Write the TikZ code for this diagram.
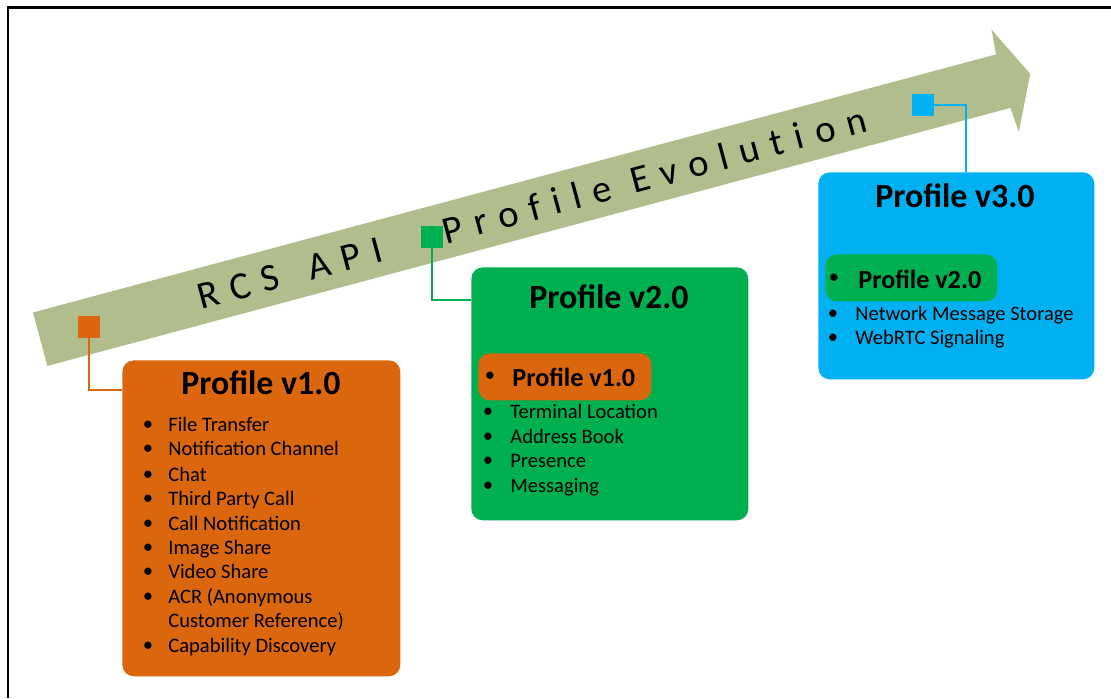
\documentclass[tikz,border=0pt]{standalone}
\usepackage{fontspec}
\setmainfont{Carlito}
\usetikzlibrary{positioning}
\definecolor{shaftGreen}{RGB}{178,189,142}
\definecolor{profOrange}{RGB}{218,102,14}
\definecolor{profGreen}{RGB}{0,176,80}
\definecolor{profBlue}{RGB}{0,176,240}
\tikzset{
  card/.style  = {rounded corners=6.5pt,anchor=north west,inner sep=0pt},
  tag/.style   = {minimum size=0.44cm,inner sep=0pt},
  link/.style  = {line width=1.1pt},
  title/.style = {font=\fontsize{19.3}{22}\selectfont\bfseries},
  sub/.style   = {anchor=west,inner sep=0pt,font=\fontsize{14.9}{17}\selectfont\bfseries},
  item/.style  = {anchor=west,inner sep=0pt,font=\fontsize{11.7}{14}\selectfont,
                  text height=1.6ex,text depth=.4ex},
  dot/.style   = {inner sep=0pt,font=\fontsize{11.7}{14}\selectfont},
  banner/.style = {rotate=15,inner sep=0pt,
                   font=\fontsize{22}{25}\selectfont\addfontfeatures{LetterSpace=31,Ligatures=CommonOff}}
}

\begin{document}
\begin{tikzpicture}[x=0.02cm,y=-0.02cm]
  \useasboundingbox (0,0) rectangle (1111,698);
  % frame
  \draw[line width=1.7pt] (1111,7) -- (8,7) -- (8,698);

  % the big arrow
  \begin{scope}[shift={(87.5,326.5)},rotate=15]
    \fill[shaftGreen] (-49,-27.7) -- (948,-27.7) -- (950,-53) -- (976,0)
      -- (950,53) -- (948,27.7) -- (-49,27.7) -- cycle;
    \node (evo) [banner] at (460,0) {RCS\hspace{0.27em} API\hspace{1.1em} Profile Evolution};
  \end{scope}

  % markers on the arrow
  \node (s1) [tag,fill=profOrange] at (89,327) {};
  \node (s2) [tag,fill=profGreen]  at (432,237) {};
  \node (s3) [tag,fill=profBlue]   at (923,105) {};

  % profile cards
  \node (p1) [card,fill=profOrange,minimum width=5.56cm,minimum height=6.32cm] at (122,360) {};
  \node (p2) [card,fill=profGreen,minimum width=5.54cm,minimum height=5.06cm] at (471,267) {};
  \node (p3) [card,fill=profBlue,minimum width=5.52cm,minimum height=4.14cm] at (818,172) {};

  \draw[link,profOrange] (s1.south) |- (p1.west |- 0,390);
  \draw[link,profGreen]  (s2.south) |- (p2.west |- 0,300);
  \draw[link,profBlue]   (s3.east) -| (p3.north -| 966,0);

  \node (h1) [title] at (261,383) {Profile v1.0};
  \node (h2) [title] at (609,297) {Profile v2.0};
  \node (h3) [title] at (955,196) {Profile v3.0};

  % v1.0
  \foreach \y/\t [count=\i] in {426/File Transfer,450/Notification Channel,476/Chat,
      500/Third Party Call,525/Call Notification,549/Image Share,573/Video Share,
      598/ACR (Anonymous,647/Capability Discovery} {
    \node (d1-\i) [dot] at (148,\y) {•};
    \node (t1-\i) [item] at (168,\y) {\t};
  }
  \node (t1-x) [item] at (168,622) {Customer Reference)};

  % v2.0
  \node (q2) [card,fill=profOrange,minimum width=3.46cm,minimum height=0.94cm] at (478,353) {};
  \node (d2-0) [dot] at (490,377) {•};
  \node (t2-0) [sub] at (512,377) {Profile v1.0};
  \foreach \y/\t [count=\i] in {413/Terminal Location,438/Address Book,462/Presence,487/Messaging} {
    \node (d2-\i) [dot] at (488,\y) {•};
    \node (t2-\i) [item] at (510,\y) {\t};
  }

  % v3.0
  \node (q3) [card,fill=profGreen,minimum width=3.44cm,minimum height=0.94cm] at (825,254) {};
  \node (d3-0) [dot] at (834,279) {•};
  \node (t3-0) [sub] at (858,279) {Profile v2.0};
  \foreach \y/\t [count=\i] in {315/Network Message Storage,339/WebRTC Signaling} {
    \node (d3-\i) [dot] at (833,\y) {•};
    \node (t3-\i) [item] at (855,\y) {\t};
  }
\end{tikzpicture}
\end{document}
